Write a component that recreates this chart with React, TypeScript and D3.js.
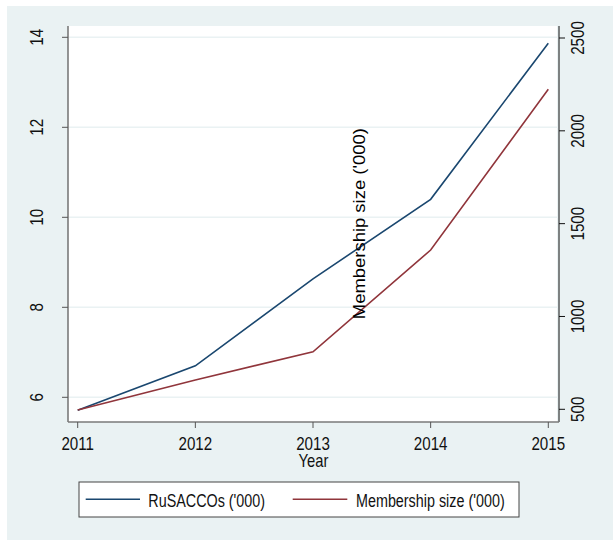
import React from 'react';
import * as d3 from 'd3';

// values (Stata twoway line, dual y-axis)
const years = [2011, 2012, 2013, 2014, 2015];
const rusaccos = [5.71, 6.7, 8.63, 10.4, 13.87]; // left axis
const membership = [496, 658, 810, 1358, 2224]; // right axis
const leftTicks = [6, 8, 10, 12, 14];
const rightTicks = [500, 1000, 1500, 2000, 2500];

const W = 613;
const H = 540;
const BG = '#eaf2f3';
const BLUE = '#1a476f';
const RED = '#90353b';
const FONT = "'Liberation Sans', Arial, sans-serif";
const NARROW = 0.82; // Stata's text is condensed; no narrow face installed, so squeeze it

const plot = { left: 68, right: 557, top: 26, bottom: 422 };

// text squeezed along its own direction
const Narrow: React.FC<{ x: number; y: number; rot?: number; size: number; anchor?: string; children: React.ReactNode }> = ({
  x, y, rot = 0, size, anchor = 'middle', children
}) => (
  <text
    transform={`translate(${x},${y}) rotate(${rot}) scale(${NARROW},1)`}
    textAnchor={anchor}
    fontSize={size}
    fill="#111"
  >
    {children}
  </text>
);

const App: React.FC = () => {
  const x = d3.scaleLinear().domain([2011, 2015]).range([77.7, 548.3]);
  const yL = d3.scaleLinear().domain([6, 14]).range([397.3, 37.3]);
  const yR = d3.scaleLinear().domain([500, 2500]).range([409.3, 38]);

  const lineL = d3.line<number>().x((_, i) => x(years[i])).y(d => yL(d));
  const lineR = d3.line<number>().x((_, i) => x(years[i])).y(d => yR(d));

  return (
    <svg width={W} height={H} style={{ position: 'absolute', left: 0, top: 0 }} fontFamily={FONT}>
      <rect x={0} y={0} width={W} height={H} fill="#fff" />
      <rect x={7} y={6} width={W - 7} height={H - 6} fill={BG} />
      <rect x={plot.left} y={plot.top} width={plot.right - plot.left} height={plot.bottom - plot.top} fill="#fff" />

      {/* gridlines */}
      {leftTicks.map(t => (
        <line key={'g' + t} x1={plot.left} x2={plot.right} y1={yL(t)} y2={yL(t)} stroke={BG} strokeWidth={1.5} />
      ))}

      {/* series */}
      <path d={lineL(rusaccos) || ''} fill="none" stroke={BLUE} strokeWidth={1.6} />
      <path d={lineR(membership) || ''} fill="none" stroke={RED} strokeWidth={1.6} />

      {/* left axis */}
      <line x1={plot.left} x2={plot.left} y1={plot.top} y2={plot.bottom} stroke="#7a7a7a" strokeWidth={1.6} />
      {leftTicks.map(t => (
        <g key={'l' + t}>
          <line x1={62} x2={plot.left} y1={yL(t)} y2={yL(t)} stroke="#555" strokeWidth={1} />
          <Narrow x={43} y={yL(t)} rot={-90} size={18.5}>{t}</Narrow>
        </g>
      ))}

      {/* right axis */}
      <line x1={559} x2={559} y1={plot.top} y2={plot.bottom} stroke="#111" strokeWidth={1} />
      {rightTicks.map(t => (
        <g key={'r' + t}>
          <line x1={559} x2={565} y1={yR(t)} y2={yR(t)} stroke="#111" strokeWidth={1} />
          <Narrow x={583.5} y={yR(t)} rot={-90} size={18.5}>{t}</Narrow>
        </g>
      ))}

      {/* bottom axis */}
      <line x1={plot.left} x2={559} y1={plot.bottom} y2={plot.bottom} stroke="#7a7a7a" strokeWidth={1.6} />
      {years.map(yr => (
        <g key={'x' + yr}>
          <line x1={x(yr)} x2={x(yr)} y1={plot.bottom} y2={428} stroke="#555" strokeWidth={1} />
          <Narrow x={x(yr)} y={450} size={18.5}>{yr}</Narrow>
        </g>
      ))}
      <Narrow x={313.5} y={466.5} size={18}>Year</Narrow>

      {/* right axis title (drawn inside the plot in the original) */}
      <text
        transform="translate(365,223.7) rotate(-90)"
        textAnchor="middle"
        fontSize={17}
        textLength={191}
        lengthAdjust="spacingAndGlyphs"
        fill="#000"
      >
        Membership size ('000)
      </text>

      {/* legend */}
      <rect x={79} y={482} width={440} height={35} fill="#fff" stroke="#444" strokeWidth={1} />
      <line x1={85.7} x2={140} y1={499.3} y2={499.3} stroke={BLUE} strokeWidth={1.6} />
      <Narrow x={148.3} y={507} size={17.5} anchor="start">RuSACCOs ('000)</Narrow>
      <line x1={292.7} x2={347.3} y1={499.3} y2={499.3} stroke={RED} strokeWidth={1.6} />
      <Narrow x={356} y={507} size={17.5} anchor="start">Membership size ('000)</Narrow>
    </svg>
  );
};

export default App;
